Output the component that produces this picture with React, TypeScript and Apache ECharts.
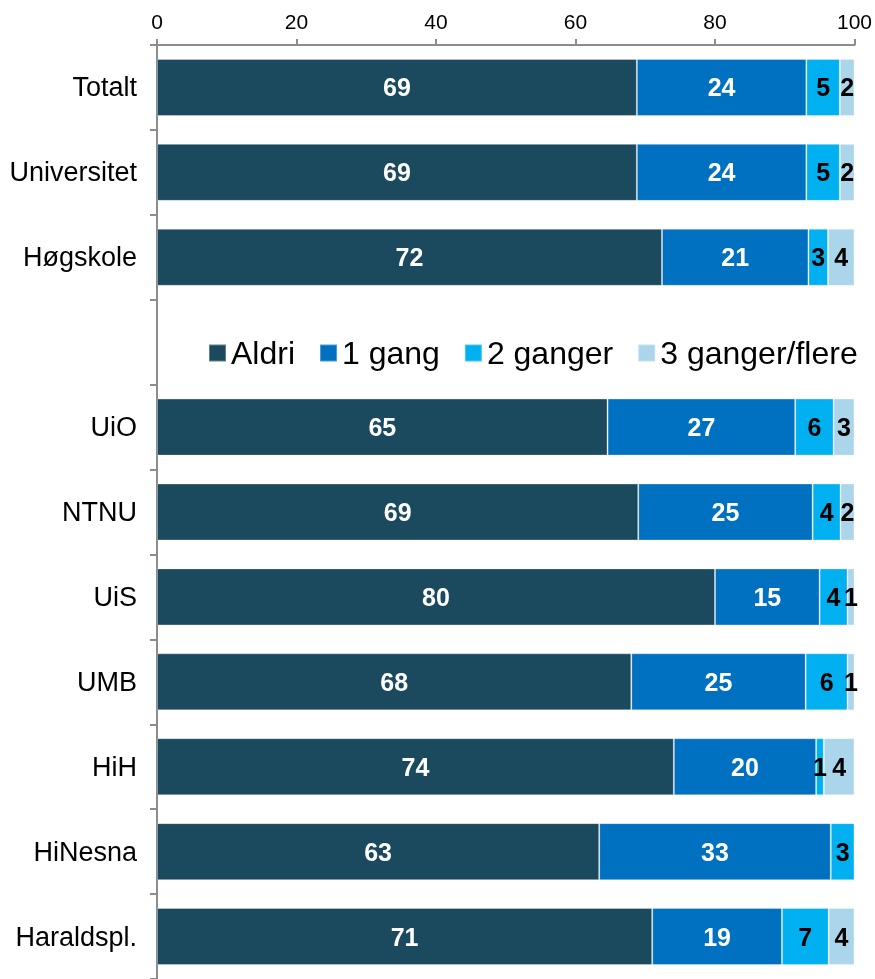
import React, { useEffect, useRef } from "react";
import * as echarts from "echarts";

const categories = ["Totalt", "Universitet", "Høgskole", "", "UiO", "NTNU", "UiS", "UMB", "HiH", "HiNesna", "Haraldspl."];
const seriesNames = ["Aldri", "1 gang", "2 ganger", "3 ganger/flere"];
const aldri = [68.8, 68.8, 72.4, null, 64.6, 69, 80, 68, 74.1, 63.4, 71];
const enGang = [24.3, 24.3, 21, null, 26.9, 25, 15, 25, 20.4, 33.2, 18.6];
const toGanger = [4.8, 4.8, 2.8, null, 5.5, 4, 4, 6, 1.1, 3.4, 6.7];
const treGanger = [2.1, 2.1, 3.8, null, 3, 2, 1, 1, 4.4, 0, 3.7];
const xTicks = [0, 20, 40, 60, 80, 100];
const colors = ["#1b4a5f", "#0070c0", "#00b0f0", "#abd5ea"];
const labelColors = ["#ffffff", "#ffffff", "#000000", "#000000"];

const FONT = "'Liberation Sans', Arial, sans-serif";

export default function App() {
  const ref = useRef<HTMLDivElement>(null);
  useEffect(() => {
    if (!ref.current) return;
    const chart = echarts.init(ref.current, null, { renderer: "svg" });
    const all = [aldri, enGang, toGanger, treGanger];
    chart.setOption({
      animation: false,
      textStyle: { fontFamily: FONT },
      color: colors,
      legend: {
        data: seriesNames.map((n) => ({ name: n, icon: "rect" })),
        left: 203,
        top: 332,
        itemWidth: 17,
        itemHeight: 17,
        itemGap: 24,
        textStyle: { fontSize: 32, color: "#000", fontFamily: FONT },
      },
      grid: { left: 157, right: 18, top: 45, bottom: -3, containLabel: false },
      xAxis: {
        type: "value",
        position: "top",
        min: xTicks[0],
        max: xTicks[xTicks.length - 1],
        interval: 20,
        splitLine: { show: false },
        axisLine: { show: true, lineStyle: { color: "#8c8c8c", width: 2 } },
        axisTick: { show: true, inside: false, length: 6, lineStyle: { color: "#8c8c8c", width: 2 } },
        axisLabel: { fontSize: 21, color: "#000", margin: 13, fontFamily: FONT },
      },
      yAxis: {
        type: "category",
        inverse: true,
        data: categories,
        axisLine: { show: true, lineStyle: { color: "#8c8c8c", width: 2 } },
        axisTick: { show: true, length: 7, alignWithLabel: false, lineStyle: { color: "#8c8c8c", width: 2 } },
        axisLabel: { fontSize: 27, color: "#000", margin: 20, fontFamily: FONT },
      },
      series: seriesNames.map((name, i) => ({
        name,
        type: "bar",
        stack: "total",
        barWidth: 57,
        data: all[i],
        itemStyle: { color: colors[i], borderColor: "rgba(255,255,255,0.3)", borderWidth: 1 },
        label: {
          show: true,
          position: "inside",
          color: labelColors[i],
          fontSize: 25,
          fontWeight: "bold",
          fontFamily: FONT,
          formatter: (p: any) => (p.value == null || p.value < 0.5 ? "" : String(Math.round(p.value))),
        },
      })),
    });
    return () => chart.dispose();
  }, []);
  return <div ref={ref} style={{ position: "fixed", left: 0, top: 0, width: 875, height: 979 }} />;
}
